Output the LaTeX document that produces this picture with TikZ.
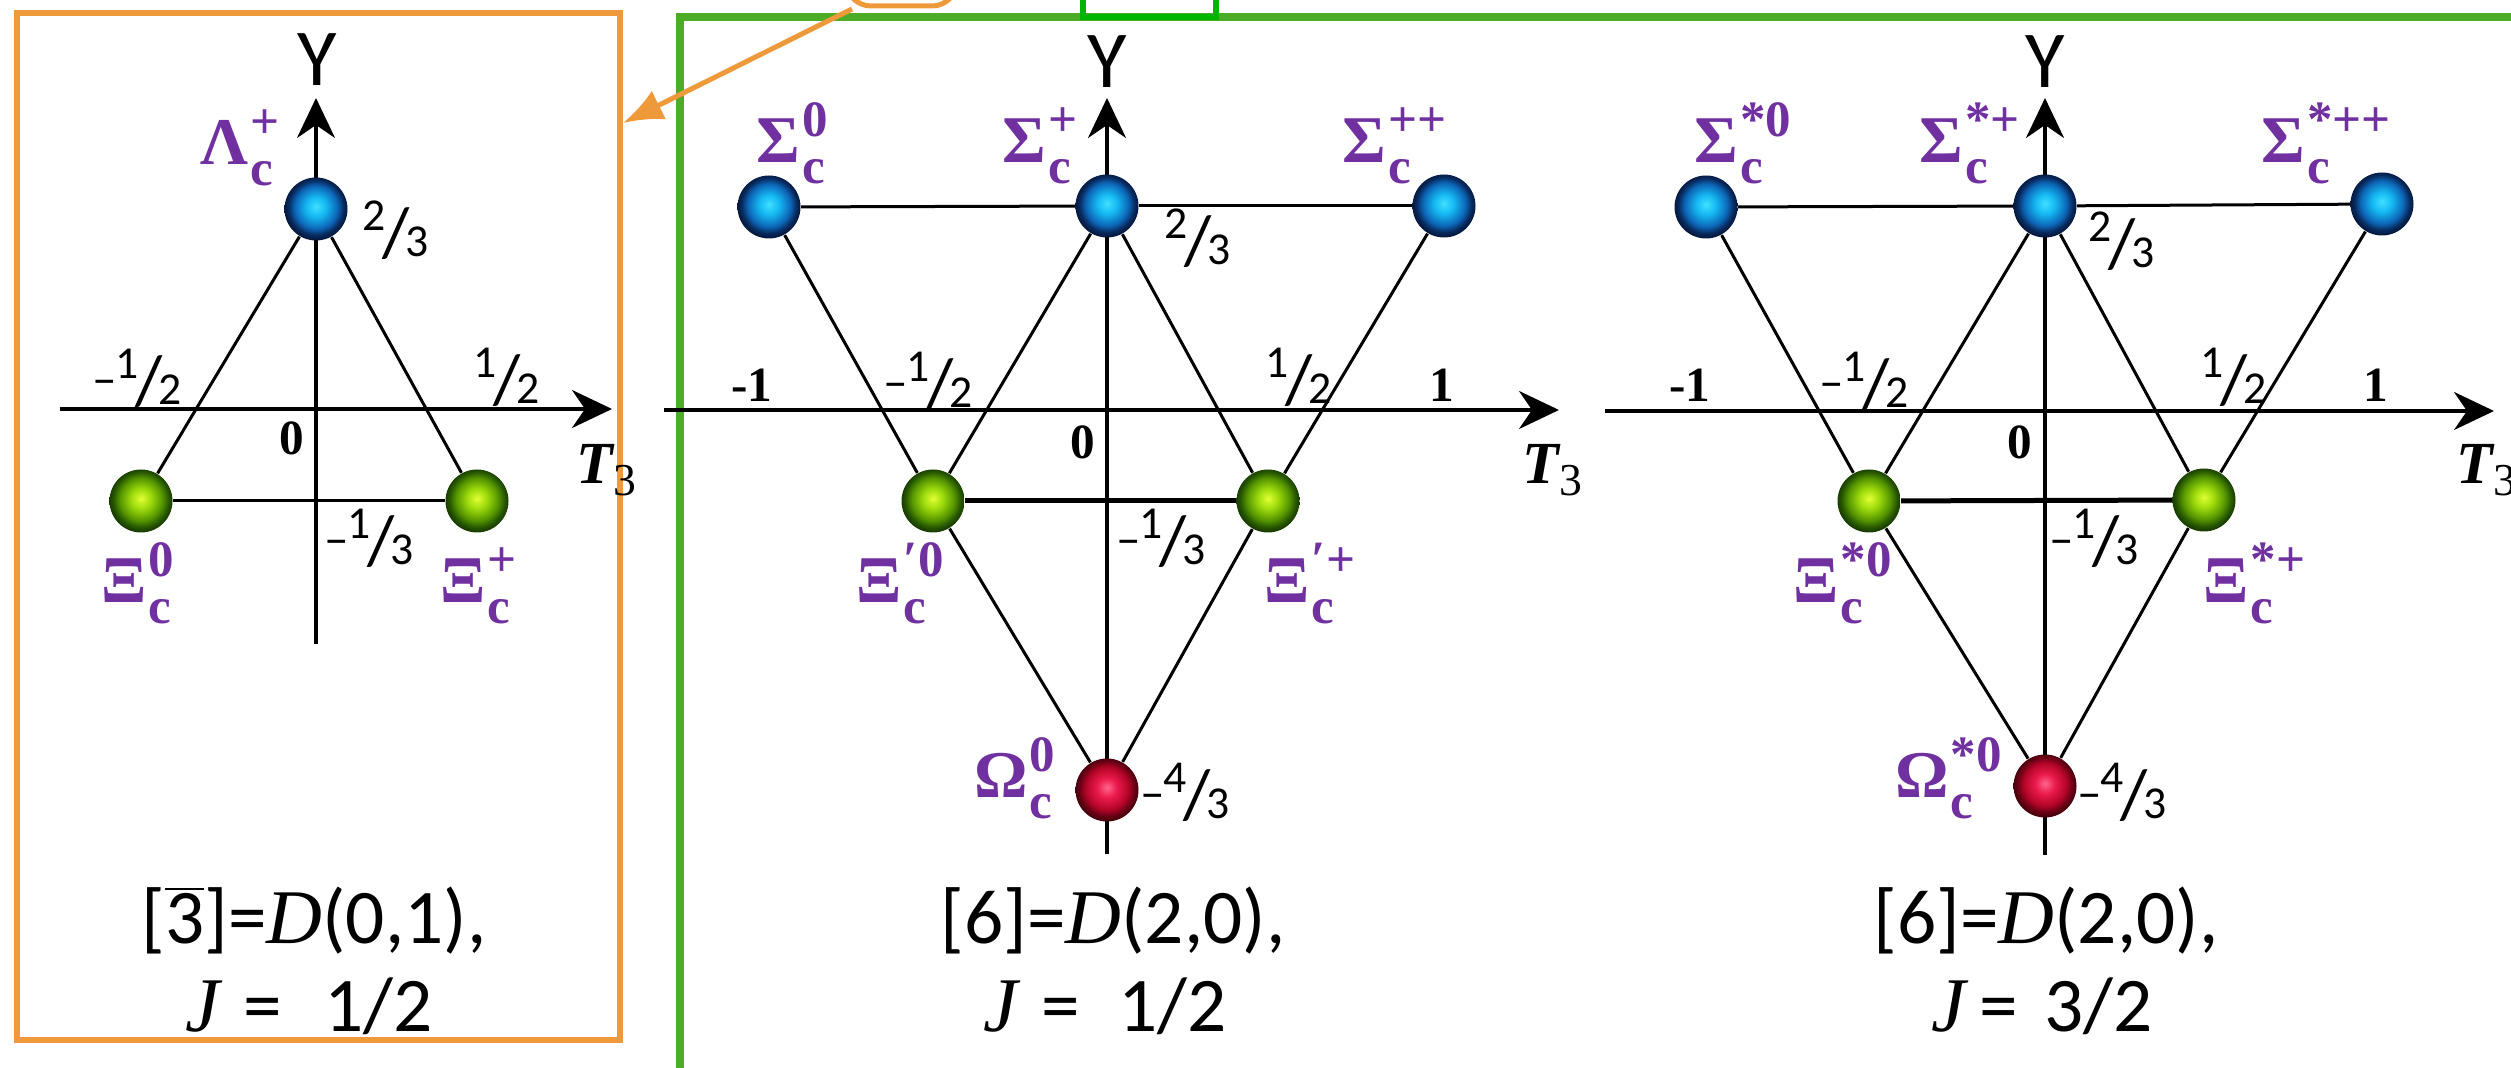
\documentclass[tikz,border=0pt]{standalone}
\usepackage{fontspec}
\newfontfamily\labfont{Liberation Serif}
\newfontfamily\calfont{Carlito}
\usetikzlibrary{arrows.meta}
\pgfdeclarelayer{bg}
\pgfsetlayers{bg,main}
\definecolor{lblpurple}{RGB}{112,48,160}
\definecolor{frgreen}{RGB}{76,172,40}
\definecolor{frorange}{RGB}{238,154,58}
\definecolor{tabgreen}{RGB}{0,180,0}
\pgfdeclareradialshading{bluesph}{\pgfpoint{0bp}{2bp}}{rgb(0bp)=(0.25,0.88,1); rgb(8bp)=(0.08,0.72,0.95); rgb(17bp)=(0.05,0.40,0.72); rgb(22bp)=(0.03,0.16,0.36); rgb(25bp)=(0.02,0.10,0.25); rgb(50bp)=(0.02,0.10,0.25)}
\pgfdeclareradialshading{greensph}{\pgfpoint{0bp}{2bp}}{rgb(0bp)=(0.88,1,0.2); rgb(8bp)=(0.62,0.86,0.05); rgb(17bp)=(0.33,0.58,0.0); rgb(22bp)=(0.15,0.34,0.0); rgb(25bp)=(0.10,0.24,0.0); rgb(50bp)=(0.10,0.24,0.0)}
\pgfdeclareradialshading{redsph}{\pgfpoint{0bp}{2bp}}{rgb(0bp)=(1,0.40,0.55); rgb(8bp)=(0.92,0.10,0.30); rgb(17bp)=(0.70,0.02,0.15); rgb(22bp)=(0.40,0.0,0.08); rgb(25bp)=(0.28,0.0,0.05); rgb(50bp)=(0.28,0.0,0.05)}
\newcommand\plab[3]{#1\kern0.5pt{\fontsize{14.5}{13.5}\selectfont\begin{tabular}[c]{@{}l@{}}#3\\#2\end{tabular}}}
\newcommand\nfr[2]{\raisebox{7.5pt}{\fontsize{13}{13}\selectfont #1}\kern-1pt{\fontsize{20}{20}\selectfont/}\kern-1pt{\fontsize{13}{13}\selectfont #2}}
\newcommand\mfr[2]{\raisebox{2.6pt}{\fontsize{14}{14}\selectfont –}\kern-0.5pt\nfr{#1}{#2}}
\tikzset{
  hadron/.style={circle, minimum size=6.3mm, inner sep=0pt, shade, shading=#1},
  plabel/.style={text=lblpurple, font=\labfont\bfseries\fontsize{19}{19}\selectfont, inner sep=0pt, anchor=base west},
  num/.style={font=\calfont, inner sep=0pt, anchor=base west},
  tick/.style={font=\labfont\bfseries\fontsize{14}{14}\selectfont, inner sep=0pt, anchor=base},
  ylab/.style={font=\calfont\fontsize{23}{23}\selectfont, inner sep=0pt, anchor=base},
  tlab/.style={font=\labfont\bfseries\itshape\fontsize{17}{17}\selectfont, inner sep=0pt, anchor=base west},
  capt/.style={font=\calfont\fontsize{22}{22}\selectfont, inner sep=0pt, anchor=base},
  edge/.style={line width=0.3mm, black},
  thickedge/.style={line width=0.5mm, black},
  axis/.style={line width=0.35mm, black, -{Stealth[length=4mm,width=3.8mm,inset=1.3mm]}},
}
\newcommand\tthree{T\raisebox{-3.4pt}{\upshape\mdseries\fontsize{13}{13}\selectfont 3}}
\begin{document}
\begin{tikzpicture}[x=0.1mm,y=-0.1mm]
\useasboundingbox (0,0) rectangle (2511,1068);
% ---------- panel 1 ----------
\node[hadron=bluesph] (L) at (316,209) {};
\node[hadron=greensph] (X0) at (141,501) {};
\node[hadron=greensph] (Xp) at (477,501) {};
\node[plabel] (Llab) at (200,165) {\plab{Λ}{c}{+}};
\node[plabel] (X0lab) at (101,603) {\plab{Ξ}{c}{0}};
\node[plabel] (Xplab) at (440,603) {\plab{Ξ}{c}{+}};
\node[num] (n1a) at (362,257) {\nfr{2}{3}};
\node[num] (n1b) at (92,405) {\mfr{1}{2}};
\node[num] (n1c) at (473,404) {\nfr{1}{2}};
\node[num] (n1d) at (324,565) {\mfr{1}{3}};
\node[tick] (z1) at (292,455) {0};
\node[ylab] (y1) at (317,86) {Y};
\node[tlab] (t1) at (576,484) {\tthree};
\node[capt] (c1a) at (314,944) {{[}$\overline{\mbox{3}}${]}={\labfont\itshape D}(0,1),};
\node[capt] (c1b) at (309,1032) {{\labfont\itshape J}\hspace{2.4mm}=\hspace{4.2mm}1/2};
% ---------- panel 2 ----------
\node[hadron=bluesph] (S0) at (769,207) {};
\node[hadron=bluesph] (Sp) at (1107,206) {};
\node[hadron=bluesph] (Spp) at (1444,206) {};
\node[hadron=greensph] (P0) at (933,501) {};
\node[hadron=greensph] (Pp) at (1268,501) {};
\node[hadron=redsph] (Om) at (1107,790) {};
\node[plabel] (S0lab) at (756,163) {\plab{Σ}{c}{0}};
\node[plabel] (Splab) at (1002,163) {\plab{Σ}{c}{+}};
\node[plabel] (Spplab) at (1342,163) {\plab{Σ}{c}{++}};
\node[plabel] (P0lab) at (856,603) {\plab{Ξ}{c}{′0}};
\node[plabel] (Pplab) at (1264,603) {\plab{Ξ}{c}{′+}};
\node[plabel] (Omlab) at (974,798) {\plab{Ω}{c}{0}};
\node[num] (n2a) at (1164,265) {\nfr{2}{3}};
\node[num] (n2b) at (883,408) {\mfr{1}{2}};
\node[num] (n2c) at (1265,404) {\nfr{1}{2}};
\node[num] (n2d) at (1116,565) {\mfr{1}{3}};
\node[num] (n2e) at (1140,819) {\mfr{4}{3}};
\node[tick] (m2) at (752,402) {-1};
\node[tick] (o2) at (1442,402) {1};
\node[tick] (z2) at (1083,459) {0};
\node[ylab] (y2) at (1107,88) {Y};
\node[tlab] (t2) at (1522,484) {\tthree};
\node[capt] (c2a) at (1113,944) {{[}6{]}={\labfont\itshape D}(2,0),};
\node[capt] (c2b) at (1105,1032) {{\labfont\itshape J}\hspace{2.4mm}=\hspace{3.8mm}1/2};
% ---------- panel 3 ----------
\node[hadron=bluesph] (R0) at (1706,207) {};
\node[hadron=bluesph] (Rp) at (2045,206) {};
\node[hadron=bluesph] (Rpp) at (2382,204) {};
\node[hadron=greensph] (Q0) at (1869,501) {};
\node[hadron=greensph] (Qp) at (2204,500) {};
\node[hadron=redsph] (Ws) at (2045,786) {};
\node[plabel] (R0lab) at (1694,163) {\plab{Σ}{c}{*0}};
\node[plabel] (Rplab) at (1919,163) {\plab{Σ}{c}{*+}};
\node[plabel] (Rpplab) at (2261,163) {\plab{Σ}{c}{*++}};
\node[plabel] (Q0lab) at (1793,603) {\plab{Ξ}{c}{*0}};
\node[plabel] (Qplab) at (2203,603) {\plab{Ξ}{c}{*+}};
\node[plabel] (Wslab) at (1895,798) {\plab{Ω}{c}{*0}};
\node[num] (n3a) at (2088,268) {\nfr{2}{3}};
\node[num] (n3b) at (1819,408) {\mfr{1}{2}};
\node[num] (n3c) at (2200,404) {\nfr{1}{2}};
\node[num] (n3d) at (2049,565) {\mfr{1}{3}};
\node[num] (n3e) at (2077,819) {\mfr{4}{3}};
\node[tick] (m3) at (1690,402) {-1};
\node[tick] (o3) at (2376,402) {1};
\node[tick] (z3) at (2020,459) {0};
\node[ylab] (y3) at (2045,88) {Y};
\node[tlab] (t3) at (2456,484) {\tthree};
\node[capt] (c3a) at (2046,944) {{[}6{]}={\labfont\itshape D}(2,0),};
\node[capt] (c3b) at (2042,1032) {{\labfont\itshape J}\hspace{1.4mm}=\hspace{2.6mm}3/2};
% ---------- frames, axes, connectors ----------
\coordinate (ya1) at (316,644); \coordinate (yb1) at (316,98);
\coordinate (xa1) at (60,409); \coordinate (xb1) at (612,409);
\coordinate (ya2) at (1107,854); \coordinate (yb2) at (1107,98);
\coordinate (xa2) at (664,410); \coordinate (xb2) at (1559,410);
\coordinate (ya3) at (2045,855); \coordinate (yb3) at (2045,98);
\coordinate (xa3) at (1605,411); \coordinate (xb3) at (2494,411);
\coordinate (arrS) at (852,9); \coordinate (arrE) at (623,123);
\begin{pgfonlayer}{bg}
  \draw[frgreen, line width=0.8mm] (680,17) rectangle (2700,1300);
  \draw[tabgreen, line width=0.6mm] (1083,-60) rectangle (1216,17);
  \draw[frorange, line width=0.55mm] (17,13) rectangle (620,1040);
  \draw[frorange, line width=0.5mm, rounded corners=2.5mm] (846,-60) rectangle (957,6);
  \draw[frorange, line width=0.5mm, -{Latex[length=4mm,width=3.2mm]}] (arrS) -- (arrE);
  \draw[axis] (ya1) -- (yb1); \draw[axis] (xa1) -- (xb1);
  \draw[axis] (ya2) -- (yb2); \draw[axis] (xa2) -- (xb2);
  \draw[axis] (ya3) -- (yb3); \draw[axis] (xa3) -- (xb3);
  \draw[edge] (L) -- (X0); \draw[edge] (L) -- (Xp); \draw[edge] (X0) -- (Xp);
  \draw[edge] (S0) -- (Sp); \draw[edge] (Sp) -- (Spp);
  \draw[edge] (S0) -- (P0); \draw[edge] (P0) -- (Om);
  \draw[edge] (Spp) -- (Pp); \draw[edge] (Pp) -- (Om);
  \draw[edge] (Sp) -- (P0); \draw[edge] (Sp) -- (Pp);
  \draw[thickedge] (P0) -- (Pp);
  \draw[edge] (R0) -- (Rp); \draw[edge] (Rp) -- (Rpp);
  \draw[edge] (R0) -- (Q0); \draw[edge] (Q0) -- (Ws);
  \draw[edge] (Rpp) -- (Qp); \draw[edge] (Qp) -- (Ws);
  \draw[edge] (Rp) -- (Q0); \draw[edge] (Rp) -- (Qp);
  \draw[thickedge] (Q0) -- (Qp);
\end{pgfonlayer}
\end{tikzpicture}
\end{document}
